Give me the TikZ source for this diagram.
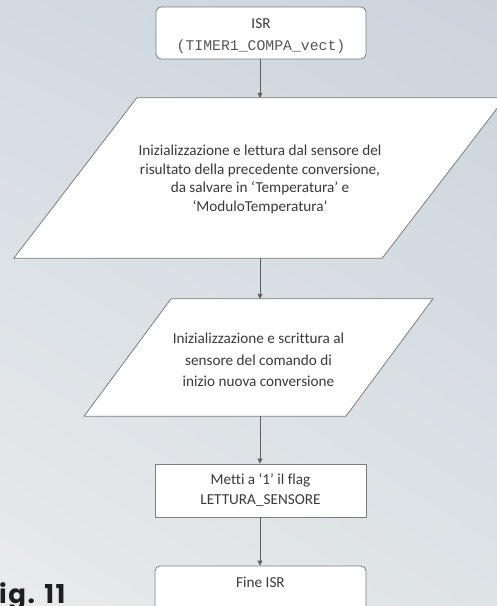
\documentclass[tikz,border=0pt]{standalone}
\usepackage{fontspec}
\setmainfont{Carlito}[Ligatures={TeX,NoCommon}]
\newfontfamily\codefont{Liberation Mono}
\newfontfamily\figfont[LetterSpace=6]{Poppins Bold}
\usetikzlibrary{arrows.meta,calc,shadings}

\definecolor{bgTL}{RGB}{211,219,226}
\definecolor{bgTR}{RGB}{203,212,220}
\definecolor{bgBL}{RGB}{233,235,236}
\definecolor{bgBR}{RGB}{222,227,230}
\definecolor{edge}{RGB}{125,125,125}
\definecolor{wire}{RGB}{95,95,95}
\definecolor{ink}{RGB}{58,58,58}

\tikzset{
  flowbox/.style={draw=edge, line width=0.8pt, fill=white, inner sep=0pt,
    text=ink, align=center},
  termbox/.style={flowbox, rounded corners=5pt},
  iobox/.style={inner sep=0pt, text=ink, align=center},
  iofill/.style={draw=edge, line width=0.8pt, fill=white},
  label/.style={inner sep=0pt, text=ink, anchor=base,
    font=\fontsize{15.2}{18}\selectfont},
  flowarrow/.style={draw=wire, line width=0.7pt,
    -{Triangle[width=5pt,length=5pt]}},
}

\begin{document}
\begin{tikzpicture}[x=1pt,y=-1pt]
  % page background
  \shade[upper left=bgTL, upper right=bgTR, lower left=bgBL, lower right=bgBR]
    (0,0) rectangle (497,606);
  \useasboundingbox (0,0) rectangle (497,606);
  \begin{scope}
  \clip (0,0) rectangle (497,606);

  % start terminal
  \node[termbox, minimum width=210pt, minimum height=52pt] (isr) at (261,33) {};
  \node[label] (isrname) at (261,28) {ISR};
  \node[label, text=ink!85, font=\codefont\fontsize{14.8}{16}\selectfont]
    (isrvect) at (261,50) {(TIMER1\_COMPA\_vect)};

  % first input/output block: frame of the parallelogram, then its text
  \node[iobox, minimum width=368pt, minimum height=160pt] (rd) at (259.5,178) {};
  \draw[iofill] ($(rd.north west)+(61.5,0)$) -- ($(rd.north east)+(61.5,0)$)
    -- ($(rd.south east)+(-61.5,0)$) -- ($(rd.south west)+(-61.5,0)$) -- cycle;
  \node[iobox, font=\fontsize{15.2}{18.6}\selectfont] (rdtext) at (260,179.5)
    {Inizializzazione e lettura dal sensore del\\
     risultato della precedente conversione,\\
     da salvare in ‘Temperatura’ e\\
     ‘ModuloTemperatura’};

  % second input/output block
  \node[iobox, minimum width=261.5pt, minimum height=117pt] (wr) at (258.5,357.5) {};
  \draw[iofill] ($(wr.north west)+(43.5,0)$) -- ($(wr.north east)+(43.5,0)$)
    -- ($(wr.south east)+(-43.5,0)$) -- ($(wr.south west)+(-43.5,0)$) -- cycle;
  \node[iobox, font=\fontsize{15.2}{21.7}\selectfont] (wrtext) at (258.5,360)
    {Inizializzazione e scrittura al\\
     sensore del comando di\\
     inizio nuova conversione};

  % process block
  \node[flowbox, minimum width=211pt, minimum height=53pt,
        font=\fontsize{15.2}{20}\selectfont] (flag) at (260.5,490.5)
    {Metti a ‘1’ il flag\\LETTURA\_SENSORE};

  % end terminal
  \node[termbox, minimum width=211pt, minimum height=52pt] (fine) at (260.5,592) {};
  \node[label] (finename) at (260.5,587) {Fine ISR};

  % connectors
  \draw[flowarrow] (isr.south -| 260,0) -- (rd.north -| 260,0);
  \draw[flowarrow] (rd.south -| 260,0) -- (wr.north -| 260,0);
  \draw[flowarrow] (wr.south -| 260,0) -- (flag.north -| 260,0);
  \draw[flowarrow] (flag.south -| 260,0) -- (fine.north -| 260,0);

  % figure caption, running off the left edge
  \node[anchor=base west, inner sep=0pt, text={rgb,255:red,30;green,30;blue,30},
        font=\figfont\fontsize{26}{26}\selectfont] (cap) at (-1,603)
    {\llap{F}ig. 11};
  \end{scope}
\end{tikzpicture}
\end{document}
